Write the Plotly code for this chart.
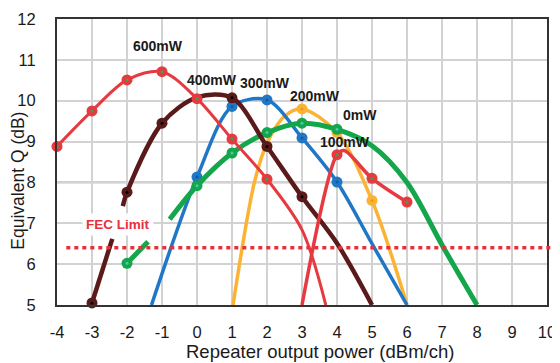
import plotly.graph_objects as go

# ---------------- data ----------------
# 600mW
p600_mx = [-4, -3, -2, -1, 0, 1, 2]
p600_my = [8.88, 9.75, 10.51, 10.71, 10.05, 9.06, 8.08]
p600_lx = [-4, -3, -2, -1, 0, 1, 2, 3, 3.68]
p600_ly = [8.88, 9.75, 10.51, 10.71, 10.05, 9.06, 8.08, 6.84, 5.0]

# 400mW
p400_mx = [-3, -2, -1, 1, 2, 3]
p400_my = [5.05, 7.76, 9.45, 10.07, 8.88, 7.65]
p400_lx = [-3, -2.42, None, -2.12, -2, -1, 0, 1, 2, 3, 4, 5]
p400_ly = [5.05, 6.62, None, 7.42, 7.76, 9.45, 10.08, 10.07, 8.88, 7.65, 6.51, 5.0]

# 300mW
p300_mx = [0, 1, 2, 3, 4]
p300_my = [8.13, 9.86, 10.02, 9.09, 8.01]
p300_lx = [-1.3, 0, 1, 2, 3, 4, 5, 6]
p300_ly = [5.0, 8.13, 9.86, 10.02, 9.09, 8.01, 6.5, 5.0]

# 200mW
p200_mx = [3, 4, 5]
p200_my = [9.8, 9.22, 7.56]
p200_lx = [1.03, 1.64, 2, 2.5, 3, 4, 5, 6]
p200_ly = [5.0, 8.0, 8.96, 9.62, 9.8, 9.22, 7.56, 5.0]

# 0mW
p0_mx = [-2, 0, 1, 2, 3, 4]
p0_my = [6.02, 7.92, 8.72, 9.22, 9.45, 9.3]
p0_lx = [-2, -1.4, None, -0.78, 0, 1, 2, 3, 4, 5, 6, 7, 8]
p0_ly = [6.02, 6.55, None, 7.1, 7.92, 8.72, 9.22, 9.45, 9.3, 8.9, 8.0, 6.47, 5.0]

# 100mW
p100_mx = [4, 5, 6]
p100_my = [8.68, 8.1, 7.52]
p100_lx = [3, 4, 4.2, 5, 6]
p100_ly = [5.0, 8.68, 8.78, 8.1, 7.52]

fec_limit = 6.4
x_ticks = list(range(-4, 11))
y_ticks = list(range(5, 13))

# ---------------- styling ----------------
RED = "#e63a40"
BROWN = "#5a1a1a"
BLUE = "#1f77c6"
ORANGE = "#fcb334"
GREEN = "#14a64b"

series = [
    # (line x, line y, marker x, marker y, color, width, center dot color)
    (p200_lx, p200_ly, p200_mx, p200_my, ORANGE, 3.5, "#e89a1c"),
    (p300_lx, p300_ly, p300_mx, p300_my, BLUE, 3.5, "#15599e"),
    (p0_lx, p0_ly, p0_mx, p0_my, GREEN, 5, "#4fc4b4"),
    (p400_lx, p400_ly, p400_mx, p400_my, BROWN, 4.5, "#000000"),
    (p100_lx, p100_ly, p100_mx, p100_my, RED, 3.5, "#2fa84c"),
    (p600_lx, p600_ly, p600_mx, p600_my, RED, 3, "#2fa84c"),
]

fig = go.Figure()
for lx, ly, mx, my, col, w, dot in series:
    fig.add_trace(go.Scatter(x=lx, y=ly, mode="lines",
                             line=dict(color=col, width=w, shape="spline", smoothing=0.9),
                             connectgaps=False, hoverinfo="skip", showlegend=False))
    fig.add_trace(go.Scatter(x=mx, y=my, mode="markers", cliponaxis=False,
                             marker=dict(size=11, color=col, line=dict(width=0)),
                             hoverinfo="skip", showlegend=False))
    fig.add_trace(go.Scatter(x=mx, y=my, mode="markers", cliponaxis=False,
                             marker=dict(size=3, color=dot, line=dict(width=0)),
                             hoverinfo="skip", showlegend=False))

# FEC limit dotted line
fig.add_shape(type="line", xref="paper", yref="y", x0=0.019, x1=1.013,
              y0=fec_limit, y1=fec_limit, layer="above",
              line=dict(color="#e8303a", width=3.5, dash="4px,4px"))

# darker grid lines (as they appear in the reference)
for xv in [-2, 1, 4, 7]:
    fig.add_shape(type="line", xref="x", yref="paper", x0=xv, x1=xv, y0=0, y1=1,
                  layer="between", line=dict(color="#8c8c8c", width=1.6))
for yv in [6, 8, 11]:
    fig.add_shape(type="line", xref="paper", yref="y", x0=0, x1=1, y0=yv, y1=yv,
                  layer="between", line=dict(color="#8c8c8c", width=1.6))

FONT = "Liberation Sans, Arial, sans-serif"
labels = [
    ("600mW", -1.12, 11.33),
    ("400mW", 0.44, 10.51),
    ("300mW", 1.94, 10.44),
    ("200mW", 3.37, 10.12),
    ("0mW", 4.67, 9.66),
    ("100mW", 4.23, 8.99),
]
for t, xx, yy in labels:
    fig.add_annotation(x=xx, y=yy, text=t, showarrow=False,
                       font=dict(family=FONT, size=14, color="#1a1a1a", weight="bold"))

fig.add_annotation(x=-2.27, y=6.96, text="FEC Limit", showarrow=False,
                   bgcolor="white", borderpad=3,
                   font=dict(family=FONT, size=13.5, color="#e8303a", weight="bold"))

# axis titles
fig.add_annotation(xref="paper", yref="paper", x=0.537, y=-0.2032,
                   text="Repeater output power (dBm/ch)", showarrow=False,
                   xanchor="center", yanchor="bottom", borderpad=0,
                   font=dict(family=FONT, size=18.5, color="#1a1a1a"))
fig.add_annotation(xref="paper", yref="paper", x=-0.08, y=0.434,
                   text="Equivalent Q (dB)", showarrow=False, textangle=-90,
                   xanchor="center", yanchor="middle",
                   font=dict(family=FONT, size=17.5, color="#1a1a1a"))

axis_common = dict(showgrid=True, gridcolor="#d2d2d2", gridwidth=1.6,
                   showline=True, linecolor="#333333", linewidth=2, mirror=True,
                   zeroline=False, ticks="", automargin=False,
                   tickfont=dict(family=FONT, size=16.5, color="#1a1a1a"))

fig.update_xaxes(range=[-4, 10], tickmode="array", tickvals=x_ticks,
                 ticktext=[str(v) for v in x_ticks], ticklabelstandoff=11, **axis_common)
fig.update_yaxes(range=[5, 12], tickmode="array", tickvals=y_ticks,
                 ticktext=[str(v) for v in y_ticks], ticklabelstandoff=16, **axis_common)

# the page body adds an 8px offset, so the figure is drawn 8px smaller
fig.update_layout(width=552, height=355, margin=dict(l=49, r=13, t=11, b=58),
                  plot_bgcolor="white", paper_bgcolor="white", showlegend=False)

fig.write_html("out.html")
